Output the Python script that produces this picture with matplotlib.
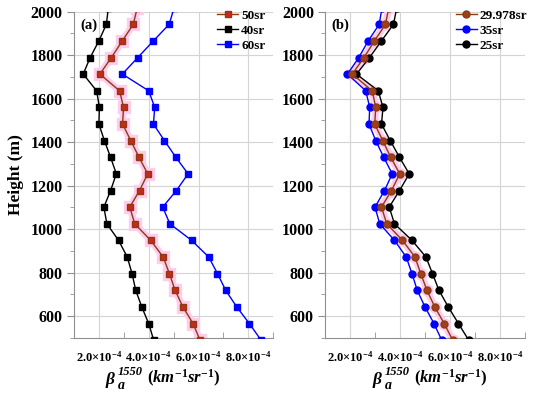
import matplotlib
matplotlib.use('Agg')
import matplotlib.pyplot as plt
from matplotlib.ticker import FixedLocator, MultipleLocator

plt.rcParams['font.family'] = 'Liberation Serif'
plt.rcParams['font.weight'] = 'bold'
plt.rcParams['mathtext.fontset'] = 'custom'
plt.rcParams['mathtext.rm'] = 'Liberation Serif:bold'
plt.rcParams['mathtext.it'] = 'Liberation Serif:italic:bold'
plt.rcParams['mathtext.bf'] = 'Liberation Serif:bold'

# heights (m), bottom to top; first/last points lie just outside the plotted range
heights = [488.5, 565, 642, 718, 795, 871, 948, 1024, 1101, 1177, 1254,
           1330, 1407, 1483, 1560, 1636, 1713, 1789, 1866, 1942, 2018.5]

# backscatter coefficient, in units of 1e-4 km^-1 sr^-1
sr50 = [6.06, 5.78, 5.37, 5.06, 4.83, 4.58, 4.08, 3.44, 3.24, 3.63, 3.96,
        3.61, 3.28, 2.95, 2.99, 2.83, 2.04, 2.50, 2.94, 3.38, 3.54]
sr40 = [4.20, 4.00, 3.72, 3.48, 3.33, 3.14, 2.79, 2.32, 2.20, 2.47, 2.70,
        2.47, 2.22, 2.00, 2.02, 1.91, 1.37, 1.65, 2.00, 2.30, 2.38]
sr60 = [8.51, 8.04, 7.53, 7.09, 6.76, 6.41, 5.72, 4.85, 4.56, 5.11, 5.58,
        5.09, 4.63, 4.19, 4.24, 4.00, 2.94, 3.56, 4.19, 4.82, 5.02]
sr29 = [6.11, 5.77, 5.39, 5.08, 4.83, 4.60, 4.10, 3.47, 3.26, 3.66, 3.99,
        3.63, 3.31, 2.99, 3.03, 2.89, 2.09, 2.56, 2.98, 3.42, 3.55]
sr35 = [5.67, 5.36, 5.00, 4.69, 4.48, 4.25, 3.78, 3.19, 3.00, 3.38, 3.69,
        3.35, 3.03, 2.76, 2.79, 2.63, 1.90, 2.35, 2.73, 3.17, 3.28]
sr25 = [6.75, 6.34, 5.93, 5.56, 5.30, 5.04, 4.48, 3.78, 3.57, 3.98, 4.37,
        3.98, 3.61, 3.26, 3.32, 3.13, 2.26, 2.78, 3.26, 3.74, 3.87]

xticks = [2e-4, 4e-4, 6e-4, 8e-4]
xticklabels = [r'$2.0{\times}10^{-4}$', r'$4.0{\times}10^{-4}$',
               r'$6.0{\times}10^{-4}$', r'$8.0{\times}10^{-4}$']
yticks = [600, 800, 1000, 1200, 1400, 1600, 1800, 2000]

brown = '#8B3A12'
red = '#C8281E'
pink = '#FFCCEC'
blue = '#0000FF'


def scale(vals):
    return [v * 1e-4 for v in vals]


fig = plt.figure(figsize=(5.5, 3.96), dpi=100)
ax1 = fig.add_axes([0.1345, 0.1472, 0.3624, 0.8232])
ax2 = fig.add_axes([0.5909, 0.1472, 0.3636, 0.8232])

# (a) panel
ax1.plot(scale(sr50), heights, color=pink, lw=5, marker='s', ms=8, mec=pink, zorder=2)
ax1.plot(scale(sr50), heights, color=brown, lw=1, marker='s', ms=4.5,
         mfc=red, mec=brown, label='50sr', zorder=4)
ax1.plot(scale(sr40), heights, color='black', lw=1, marker='s', ms=4.5, label='40sr', zorder=3)
ax1.plot(scale(sr60), heights, color=blue, lw=1, marker='s', ms=4.5, label='60sr', zorder=3)
ax1.set_xlim(1e-4, 9e-4)

# (b) panel
ax2.plot(scale(sr29), heights, color=pink, lw=5, marker='o', ms=8, mec=pink, zorder=2)
ax2.plot(scale(sr29), heights, color=brown, lw=1, marker='o', ms=5,
         mfc='#A0401A', mec=brown, label='29.978sr', zorder=4)
ax2.plot(scale(sr35), heights, color=blue, lw=1, marker='o', ms=5, label='35sr', zorder=3)
ax2.plot(scale(sr25), heights, color='black', lw=1, marker='o', ms=5, label='25sr', zorder=3)
ax2.set_xlim(1e-4, 8e-4)

# x label pieces (axes fraction): beta, sub/superscript, units
label_pos = {ax1: (0.156, 0.221, 0.366), ax2: (0.235, 0.300, 0.4475)}

for ax, tag in [(ax1, '(a)'), (ax2, '(b)')]:
    ax.set_ylim(500, 2000)
    ax.xaxis.set_major_locator(FixedLocator(xticks))
    ax.set_xticklabels(xticklabels, fontsize=9)
    ax.set_xticks([1e-4, 3e-4, 5e-4, 7e-4, 9e-4], minor=True)
    ax.set_yticks(yticks)
    ax.set_yticklabels([str(t) for t in yticks], fontsize=11.5, fontweight='bold')
    ax.yaxis.set_minor_locator(MultipleLocator(100))
    ax.grid(True, color='#d4d4d4', lw=0.8, zorder=0)
    ax.set_axisbelow(True)
    for s in ['top', 'right']:
        ax.spines[s].set_visible(False)
    for s in ['left', 'bottom']:
        ax.spines[s].set_color('#909090')
        ax.spines[s].set_linewidth(0.8)
    ax.tick_params(axis='y', which='major', direction='out', length=5, color='#909090', pad=3)
    ax.tick_params(axis='y', which='minor', direction='out', length=3, color='#909090')
    ax.tick_params(axis='x', which='major', direction='in', length=0, pad=9)
    ax.tick_params(axis='x', which='minor', direction='in', length=4, color='#909090')
    ax.text(0.03, 0.959, tag, transform=ax.transAxes, fontsize=10.5, fontweight='bold',
            va='center', ha='left')
    bx, sx, ux = label_pos[ax]
    ax.text(bx, -0.141, r'$\beta$', transform=ax.transAxes,
            fontsize=12.5, ha='left', va='baseline')
    ax.text(sx, -0.114, '1550', transform=ax.transAxes, fontsize=9,
            fontstyle='italic', fontweight='bold', ha='left', va='baseline')
    ax.text(sx, -0.156, 'a', transform=ax.transAxes, fontsize=10,
            fontstyle='italic', fontweight='bold', ha='left', va='baseline')
    ax.text(ux, -0.139, r'$(km^{-1}sr^{-1})$', transform=ax.transAxes,
            fontsize=12, ha='left', va='baseline')

ax1.set_ylabel('Height (m)', fontsize=12.5, fontweight='bold', labelpad=5)

ax1.legend(loc='upper right', bbox_to_anchor=(1.0, 1.03), frameon=False, fontsize=9.5,
           handlelength=1.6, handletextpad=0.2, labelspacing=0.2, borderaxespad=0.2)
ax2.legend(loc='upper right', bbox_to_anchor=(1.05, 1.03), frameon=False, fontsize=9.5,
           handlelength=1.6, handletextpad=0.2, labelspacing=0.2, borderaxespad=0.2)

fig.savefig('out.png', dpi=100)
